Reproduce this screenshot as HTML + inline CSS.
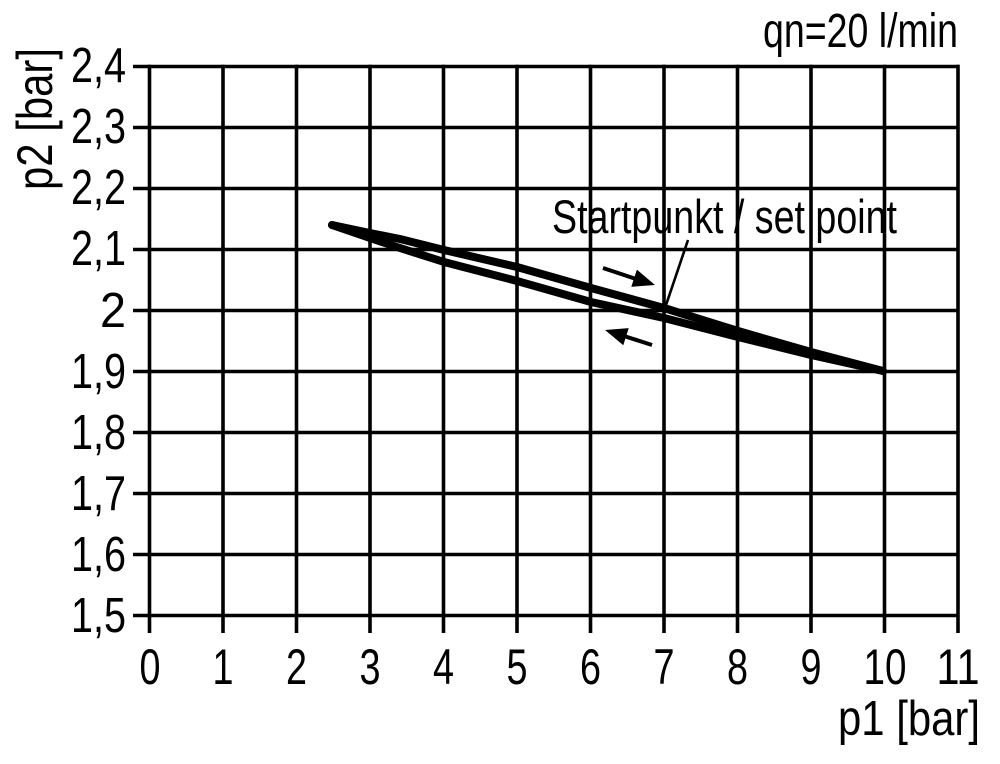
<!DOCTYPE html>
<html>
<head>
<meta charset="utf-8">
<style>
  html,body{margin:0;padding:0;background:#fff;}
  svg{display:block;}
  text{font-family:"Liberation Sans",Arial,sans-serif;fill:#000;}
</style>
</head>
<body>
<svg width="1000" height="764" viewBox="0 0 1000 764" xmlns="http://www.w3.org/2000/svg">
  <rect width="1000" height="764" fill="#fff"/>
  <!-- grid -->
  <g stroke="#000" stroke-width="3.6" fill="none">
    <!-- horizontal lines (with left tick stubs) -->
    <line x1="133" y1="66.5" x2="959.5" y2="66.5"/>
    <line x1="133" y1="127.5" x2="959.5" y2="127.5"/>
    <line x1="133" y1="188.5" x2="959.5" y2="188.5"/>
    <line x1="133" y1="249.5" x2="959.5" y2="249.5"/>
    <line x1="133" y1="310.5" x2="959.5" y2="310.5"/>
    <line x1="133" y1="371.5" x2="959.5" y2="371.5"/>
    <line x1="133" y1="432.5" x2="959.5" y2="432.5"/>
    <line x1="133" y1="493.5" x2="959.5" y2="493.5"/>
    <line x1="133" y1="554.5" x2="959.5" y2="554.5"/>
    <line x1="133" y1="615.5" x2="959.5" y2="615.5"/>
    <!-- vertical lines (with bottom tick stubs) -->
    <line x1="149.5" y1="64.7" x2="149.5" y2="633"/>
    <line x1="223" y1="64.7" x2="223" y2="633"/>
    <line x1="296.5" y1="64.7" x2="296.5" y2="633"/>
    <line x1="370" y1="64.7" x2="370" y2="633"/>
    <line x1="443.5" y1="64.7" x2="443.5" y2="633"/>
    <line x1="517" y1="64.7" x2="517" y2="633"/>
    <line x1="590.5" y1="64.7" x2="590.5" y2="633"/>
    <line x1="664" y1="64.7" x2="664" y2="633"/>
    <line x1="737.5" y1="64.7" x2="737.5" y2="633"/>
    <line x1="811" y1="64.7" x2="811" y2="633"/>
    <line x1="884.5" y1="64.7" x2="884.5" y2="633"/>
    <line x1="958" y1="64.7" x2="958" y2="633"/>
  </g>

  <!-- y tick labels -->
  <g font-size="49" text-anchor="end">
    <text x="126" y="82" textLength="55" lengthAdjust="spacingAndGlyphs">2,4</text>
    <text x="126" y="143" textLength="55" lengthAdjust="spacingAndGlyphs">2,3</text>
    <text x="126" y="204" textLength="55" lengthAdjust="spacingAndGlyphs">2,2</text>
    <text x="126" y="265" textLength="55" lengthAdjust="spacingAndGlyphs">2,1</text>
    <text x="126" y="327" textLength="26" lengthAdjust="spacingAndGlyphs">2</text>
    <text x="126" y="388" textLength="55" lengthAdjust="spacingAndGlyphs">1,9</text>
    <text x="126" y="449" textLength="55" lengthAdjust="spacingAndGlyphs">1,8</text>
    <text x="126" y="510" textLength="55" lengthAdjust="spacingAndGlyphs">1,7</text>
    <text x="126" y="571" textLength="55" lengthAdjust="spacingAndGlyphs">1,6</text>
    <text x="126" y="632" textLength="55" lengthAdjust="spacingAndGlyphs">1,5</text>
  </g>

  <!-- x tick labels -->
  <g font-size="50" text-anchor="middle">
    <text x="150" y="684" textLength="21" lengthAdjust="spacingAndGlyphs">0</text>
    <text x="223" y="684" textLength="21" lengthAdjust="spacingAndGlyphs">1</text>
    <text x="296.5" y="684" textLength="21" lengthAdjust="spacingAndGlyphs">2</text>
    <text x="370" y="684" textLength="21" lengthAdjust="spacingAndGlyphs">3</text>
    <text x="443.5" y="684" textLength="21" lengthAdjust="spacingAndGlyphs">4</text>
    <text x="517" y="684" textLength="21" lengthAdjust="spacingAndGlyphs">5</text>
    <text x="590.5" y="684" textLength="21" lengthAdjust="spacingAndGlyphs">6</text>
    <text x="664" y="684" textLength="21" lengthAdjust="spacingAndGlyphs">7</text>
    <text x="737.5" y="684" textLength="21" lengthAdjust="spacingAndGlyphs">8</text>
    <text x="811" y="684" textLength="21" lengthAdjust="spacingAndGlyphs">9</text>
    <text x="885" y="684" textLength="43" lengthAdjust="spacingAndGlyphs">10</text>
    <text x="958" y="684" textLength="43" lengthAdjust="spacingAndGlyphs">11</text>
  </g>

  <!-- axis titles -->
  <text x="838" y="735" font-size="49" textLength="142" lengthAdjust="spacingAndGlyphs">p1 [bar]</text>
  <text transform="translate(52,190) rotate(-90)" font-size="50" textLength="142" lengthAdjust="spacingAndGlyphs">p2 [bar]</text>
  <text x="763" y="47" font-size="48" textLength="195" lengthAdjust="spacingAndGlyphs">qn=20 l/min</text>

  <!-- annotation -->
  <text x="552" y="233" font-size="47" textLength="345" lengthAdjust="spacingAndGlyphs">Startpunkt / set point</text>
  <line x1="688" y1="240" x2="664" y2="311" stroke="#000" stroke-width="2.6"/>

  <!-- arrows -->
  <line x1="603" y1="268" x2="636" y2="279" stroke="#000" stroke-width="4"/>
  <polygon points="655,285 631.3,286.8 636.9,269.6" fill="#000"/>
  <line x1="652" y1="345" x2="624" y2="336" stroke="#000" stroke-width="4"/>
  <polygon points="605,330 628.7,328.1 623.3,345.3" fill="#000"/>

  <!-- curves -->
  <g fill="none" stroke="#000" stroke-width="8" stroke-linecap="round" stroke-linejoin="round">
    <polyline points="332,225 370,233 400,239 444,250 517,267 591,288 664,308 738,331 811,352 883,371"/>
    <polyline points="332,225 370,238 400,248 444,262 517,281 591,302 664,318 738,337 811,355 883,371"/>
  </g>
</svg>
</body>
</html>
